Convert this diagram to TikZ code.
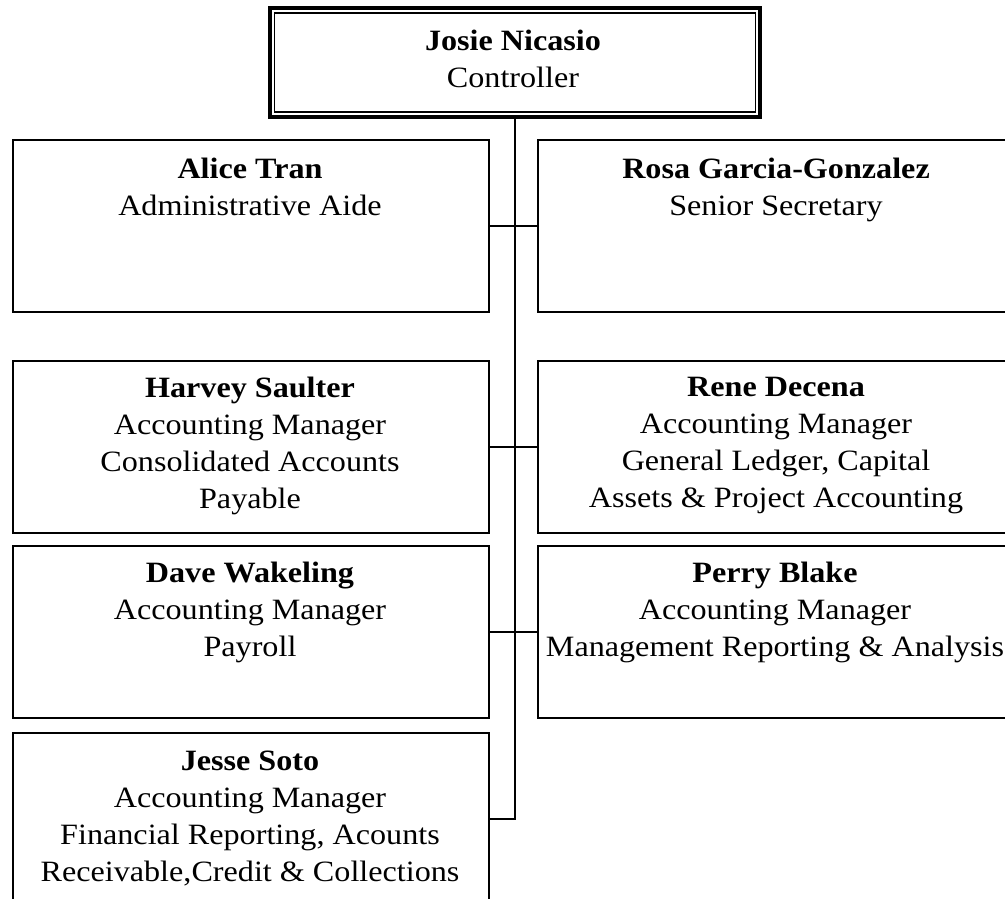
\documentclass[tikz,border=0pt]{standalone}
\usepackage{fontspec}
\setmainfont{Liberation Serif}[FakeStretch=1.09]
\begin{document}
\begin{tikzpicture}[x=1pt,y=1pt,
  box/.style={draw=black,line width=2.2pt,minimum width=476pt,minimum height=172pt,anchor=north west,inner sep=0pt},
  rbox/.style={draw=black,line width=2.2pt,minimum width=476pt,minimum height=172pt,anchor=north west,inner sep=0pt},
  txt/.style={align=center,anchor=north,inner sep=0pt,font=\fontsize{29.5}{37}\selectfont},
  conn/.style={draw=black,line width=2pt}]
\useasboundingbox (0,0) rectangle (1005,-898);
\clip (0,0) rectangle (1005,-898);
\fill[white] (0,0) rectangle (1005,-898);
% top box
\node[draw=black,line width=4pt,minimum width=490pt,minimum height=109pt,anchor=north west,inner sep=0pt] (ctrl) at (268,-5.7) {};
\draw[line width=1.6pt] ([shift={(6.5pt,-7pt)}]ctrl.north west) rectangle ([shift={(-6.5pt,7pt)}]ctrl.south east);
\node[txt] (ctrlt) at (513,-30) {\textbf{Josie Nicasio}\\Controller};
% left boxes
\node[box] (alice) at (11.5,-139) {};
\node[box] (harvey) at (11.5,-360) {};
\node[box] (dave) at (11.5,-545) {};
\node[box] (jesse) at (11.5,-732) {};
% right boxes
\node[rbox] (rosa) at (537,-139) {};
\node[rbox] (rene) at (537,-360) {};
\node[rbox] (perry) at (537,-545) {};
% texts
\node[txt] (alicet) at (250,-158) {\textbf{Alice Tran}\\Administrative Aide};
\node[txt] (harveyt) at (250,-377) {\textbf{Harvey Saulter}\\Accounting Manager\\Consolidated Accounts\\Payable};
\node[txt] (davet) at (250,-562) {\textbf{Dave Wakeling}\\Accounting Manager\\Payroll};
\node[txt] (jesset) at (250,-751) {\textbf{Jesse Soto}\\Accounting Manager\\Financial Reporting, Acounts\\Receivable,Credit \& Collections};
\node[txt] (rosat) at (776,-158) {\textbf{Rosa Garcia-Gonzalez}\\Senior Secretary};
\node[txt] (renet) at (776,-377) {\textbf{Rene Decena}\\Accounting Manager\\General Ledger, Capital\\Assets \& Project Accounting};
\node[txt] (perryt) at (775,-562) {\textbf{Perry Blake}\\Accounting Manager\\Management Reporting \& Analysis};
% connectors
\draw[conn] (ctrl.south) |- (jesse.east);
\draw[conn] (alice.east) -- (rosa.west);
\draw[conn] (harvey.east) -- (rene.west);
\draw[conn] (dave.east) -- (perry.west);
\end{tikzpicture}
\end{document}
